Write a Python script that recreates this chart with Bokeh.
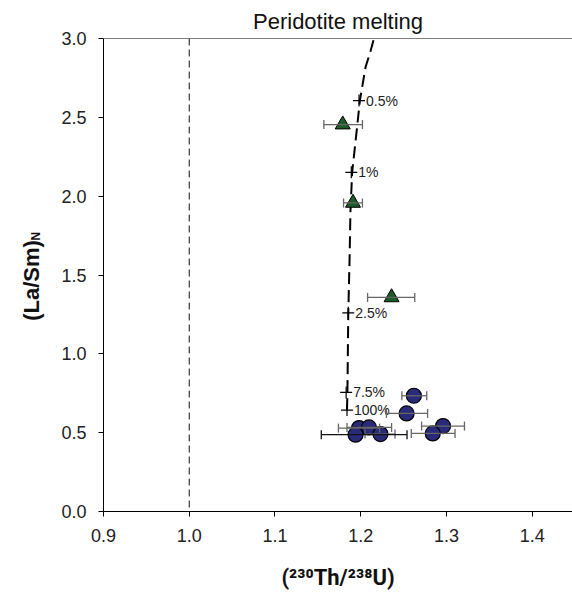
import math
from bokeh.plotting import figure
from bokeh.models import (Range1d, Span, Label, Whisker, TeeHead, ColumnDataSource,
                          FixedTicker, CustomJSTickFormatter)
from bokeh.core.properties import value
from bokeh.embed import file_html
from bokeh.resources import INLINE

# ---- data ----
x_ticks = [0.9, 1.0, 1.1, 1.2, 1.3, 1.4]
y_ticks = [0.0, 0.5, 1.0, 1.5, 2.0, 2.5, 3.0]

melt_x = [1.184, 1.1845, 1.1855, 1.187, 1.188, 1.190, 1.196, 1.199, 1.2057, 1.2115, 1.2154]
melt_y = [0.643, 0.76, 1.26, 1.6, 1.9, 2.15, 2.45, 2.606, 2.82, 2.92, 3.0]

pct_labels = ["0.5%", "1%", "2.5%", "7.5%", "100%"]
pct_x = [1.198, 1.189, 1.1855, 1.183, 1.184]
pct_y = [2.606, 2.151, 1.26, 0.755, 0.643]

tri_x = [1.179, 1.191, 1.236]
tri_y = [2.454, 1.957, 1.358]
tri_xlo = [1.157, 1.180, 1.208]
tri_xhi = [1.202, 1.202, 1.263]

cir_x = [1.262, 1.2535, 1.198, 1.2096, 1.194, 1.223, 1.296, 1.284]
cir_y = [0.734, 0.622, 0.529, 0.533, 0.487, 0.491, 0.542, 0.495]
cir_xlo = [1.248, 1.230, 1.174, 1.184, 1.154, 1.205, 1.271, 1.259]
cir_xhi = [1.277, 1.278, 1.222, 1.236, 1.254, 1.240, 1.321, 1.310]

x_title = "(\u00b2\u00b3\u2070Th/\u00b2\u00b3\u2078U)"
y_title = "(La/Sm)\u2002"
y_title_sub = "N"

# ---- figure ----
FONT = "Liberation Sans"
FB = 511  # frame bottom (canvas px)
p = figure(width=572, height=592, output_backend="svg", toolbar_location=None,
           x_range=Range1d(0.9, 1.447), y_range=Range1d(0.0, 3.0),
           min_border_left=103, min_border_right=0, min_border_top=38, min_border_bottom=81,
           title="Peridotite melting")
p.title.align = "center"
p.title.text_font = FONT
p.title.text_font_size = "22px"
p.title.text_font_style = "normal"
p.title.text_color = "#111111"
p.title.offset = 0
p.grid.visible = False
p.outline_line_color = None

for ax in (p.xaxis, p.yaxis):
    ax.axis_line_color = "black"
    ax.axis_line_width = 1
    ax.major_tick_line_color = "black"
    ax.major_tick_in = 0
    ax.major_tick_out = 5
    ax.minor_tick_line_color = None
    ax.major_label_text_font = FONT
    ax.major_label_text_font_size = "18px"
    ax.major_label_text_color = "#222222"
    ax.axis_label_text_font = FONT
    ax.axis_label_text_font_style = "bold"
    ax.axis_label_text_font_size = "22px"
    ax.axis_label_text_color = "#111111"
p.xaxis.ticker = FixedTicker(ticks=x_ticks)
p.yaxis.ticker = FixedTicker(ticks=y_ticks)
p.xaxis.formatter = CustomJSTickFormatter(code="return tick.toFixed(1)")
p.yaxis.formatter = CustomJSTickFormatter(code="return tick.toFixed(1)")
p.xaxis.major_label_standoff = 12
p.yaxis.major_label_standoff = 12
p.xaxis.axis_label = x_title
p.xaxis.axis_label_text_font = "Roboto"
p.yaxis.axis_label = y_title
p.xaxis.axis_label_standoff = 20
p.yaxis.axis_label_standoff = 14

p.add_layout(Span(location=3.0, dimension="width", line_color="black", line_width=1))
p.add_layout(Span(location=1.0, dimension="height", line_color="#111111",
                  line_width=1, line_dash="7 4"))

p.line(melt_x, melt_y, line_color="black", line_width=2, line_dash="12 6")
p.scatter(pct_x, pct_y, marker="cross", size=12, line_color="black", line_width=1.2)
p.text(pct_x, pct_y, text=pct_labels, x_offset=7, text_baseline="middle",
       text_font_size="14px", text_color="#222222", text_font=value(FONT))

tri_src = ColumnDataSource(dict(x=tri_x, y=tri_y, lo=tri_xlo, hi=tri_xhi))
cir_src = ColumnDataSource(dict(x=cir_x, y=cir_y, lo=cir_xlo, hi=cir_xhi))
black_idx = 4
gray_src = ColumnDataSource(dict(y=[v for i, v in enumerate(cir_y) if i != black_idx],
                                 lo=[v for i, v in enumerate(cir_xlo) if i != black_idx],
                                 hi=[v for i, v in enumerate(cir_xhi) if i != black_idx]))
blk_src = ColumnDataSource(dict(y=[cir_y[black_idx]], lo=[cir_xlo[black_idx]],
                                hi=[cir_xhi[black_idx]]))

def whisk(src, color):
    w = Whisker(base="y", lower="lo", upper="hi", dimension="width", source=src,
                line_color=color, line_width=1.3,
                lower_head=TeeHead(size=9, line_color=color, line_width=1.3),
                upper_head=TeeHead(size=9, line_color=color, line_width=1.3),
                level="glyph")
    p.add_layout(w)

whisk(tri_src, "#666666")
whisk(gray_src, "#666666")
whisk(blk_src, "#111111")

p.scatter("x", "y", source=tri_src, marker="triangle", size=15,
          fill_color="#1c5a2a", line_color="black", line_width=1)
p.scatter("x", "y", source=cir_src, marker="circle", size=15,
          fill_color="#2a2a7a", line_color="black", line_width=1.2)

# subscript N of the y title, in its own left side panel
p.add_layout(Label(x=33, y=FB - 240, x_units="screen", y_units="screen",
                   text=y_title_sub, angle=math.pi / 2, text_font=FONT,
                   text_font_style="bold", text_font_size="12px", text_color="#111111",
                   text_align="left", text_baseline="alphabetic"), "left")

open("out.html", "w").write(file_html(p, INLINE))
